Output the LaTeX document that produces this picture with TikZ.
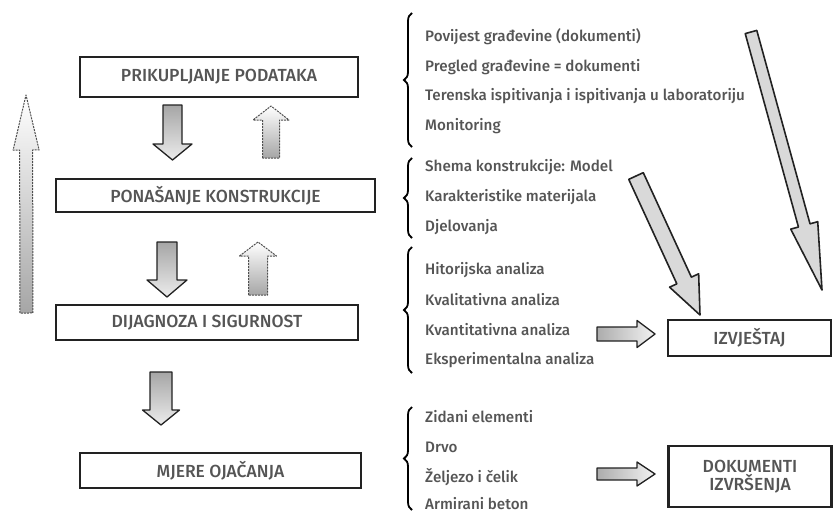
\documentclass[tikz,border=0pt]{standalone}
\usepackage{fontspec}
\IfFontExistsTF{Fira Sans Medium}{\setmainfont{Fira Sans Medium}}{\setmainfont{Fira Sans}}
\usetikzlibrary{calc,decorations.pathreplacing}
\definecolor{txt}{HTML}{555555}
\definecolor{edge}{HTML}{222222}
\newcommand\blockarrow[6]{%
  \coordinate (hb) at ($(#3)!#6!(#2)$);
  \path[#1] ($(#2)!#4!90:(#3)$) -- ($(hb)!#4!90:(#3)$) -- ($(hb)!#5!90:(#3)$) -- (#3)
    -- ($(hb)!#5!-90:(#3)$) -- ($(hb)!#4!-90:(#3)$) -- ($(#2)!#4!-90:(#3)$) -- cycle;
}
\tikzset{
  stagebox/.style={draw=edge, line width=2.2pt, text=txt, font=\fontsize{17.5}{19.5}\selectfont, inner sep=0pt, align=center},
  item/.style={anchor=west, text=txt, font=\fontsize{15.2}{17}\selectfont, inner sep=0pt},
  brc/.style={draw=black, line width=1.8pt, decorate, decoration={brace, amplitude=8pt}},
  downarr/.style={draw=edge, line width=1.3pt, top color=gray!70, bottom color=gray!15, line join=round},
  uparr/.style={draw=edge!80, line width=1pt, dash pattern=on 2pt off 1pt, top color=white, bottom color=gray!70, line join=round},
  sidearr/.style={draw=edge, line width=1.3pt, left color=gray!65, right color=gray!10, line join=round},
  diagarr/.style={draw=edge, line width=1.6pt, fill=gray!30, line join=round},
}
\begin{document}
\begin{tikzpicture}[x=1pt,y=-1pt]
\useasboundingbox (0,0) rectangle (834,514);
% stage boxes
\node[stagebox, minimum width=278pt, minimum height=40pt] (prik) at (219,77) {PRIKUPLJANJE PODATAKA};
\node[stagebox, minimum width=319pt, minimum height=33pt] (pona) at (215.5,195.5) {PONAŠANJE KONSTRUKCIJE};
\node[stagebox, minimum width=302pt, minimum height=35pt] (dija) at (207,322.5) {DIJAGNOZA I SIGURNOST};
\node[stagebox, minimum width=281pt, minimum height=35pt] (mjer) at (220.5,470.5) {MJERE OJAČANJA};
\node[stagebox, minimum width=163pt, minimum height=36pt] (izvj) at (749.5,338) {IZVJEŠTAJ};
\node[stagebox, minimum width=163pt, minimum height=61pt] (doku) at (750,476.5) {DOKUMENTI\\[-1pt]IZVRŠENJA};
% items
\node[item] (i1) at (425,37) {Povijest građevine (dokumenti)};
\node[item] (i2) at (425,67) {Pregled građevine = dokumenti};
\node[item] (i3) at (425,96) {Terenska ispitivanja i ispitivanja u laboratoriju};
\node[item] (i4) at (425,126) {Monitoring};
\node[item] (i5) at (425,167) {Shema konstrukcije: Model};
\node[item] (i6) at (425,197) {Karakteristike materijala};
\node[item] (i7) at (425,227) {Djelovanja};
\node[item] (i8) at (425,270) {Hitorijska analiza};
\node[item] (i9) at (425,300) {Kvalitativna analiza};
\node[item] (i10) at (425,330) {Kvantitativna analiza};
\node[item] (i11) at (425,360) {Eksperimentalna analiza};
\node[item] (i12) at (425,417) {Zidani elementi};
\node[item] (i13) at (425,447) {Drvo};
\node[item] (i14) at (425,477) {Željezo i čelik};
\node[item] (i15) at (425,504) {Armirani beton};
% braces
\draw[brc] (412,147) -- (412,13);
\draw[brc] (412,238) -- (412,158);
\draw[brc] (412,373) -- (412,247);
\draw[brc] (412,510) -- (412,407);
% arrows between stages
\coordinate (d1a) at (172.5,105); \coordinate (d1b) at (172.5,160);
\coordinate (d2a) at (167,242);   \coordinate (d2b) at (167,297);
\coordinate (d3a) at (161,372);   \coordinate (d3b) at (161,425);
\coordinate (u1a) at (271,158);   \coordinate (u1b) at (271,106);
\coordinate (u2a) at (258,295);   \coordinate (u2b) at (258,242);
\coordinate (bga) at (26.5,313);  \coordinate (bgb) at (26,95);
\coordinate (r1a) at (597,334);   \coordinate (r1b) at (655,334);
\coordinate (r2a) at (597,474);   \coordinate (r2b) at (655,474);
\coordinate (g1a) at (751,32);    \coordinate (g1b) at (822,290);
\coordinate (g2a) at (636,176);   \coordinate (g2b) at (700,315);
\blockarrow{downarr}{d1a}{d1b}{9.5pt}{19.5pt}{16pt}
\blockarrow{downarr}{d2a}{d2b}{10pt}{20pt}{17pt}
\blockarrow{downarr}{d3a}{d3b}{11pt}{18.5pt}{15pt}
\blockarrow{uparr}{u1a}{u1b}{8.5pt}{18pt}{14pt}
\blockarrow{uparr}{u2a}{u2b}{9.5pt}{18.5pt}{14pt}
\blockarrow{uparr}{bga}{bgb}{6.5pt}{13pt}{55pt}
\blockarrow{sidearr}{r1a}{r1b}{7pt}{13.5pt}{18pt}
\blockarrow{sidearr}{r2a}{r2b}{6pt}{12pt}{18pt}
\blockarrow{diagarr}{g1a}{g1b}{6pt}{14pt}{67pt}
\blockarrow{diagarr}{g2a}{g2b}{8pt}{16pt}{38pt}
\end{tikzpicture}
\end{document}
